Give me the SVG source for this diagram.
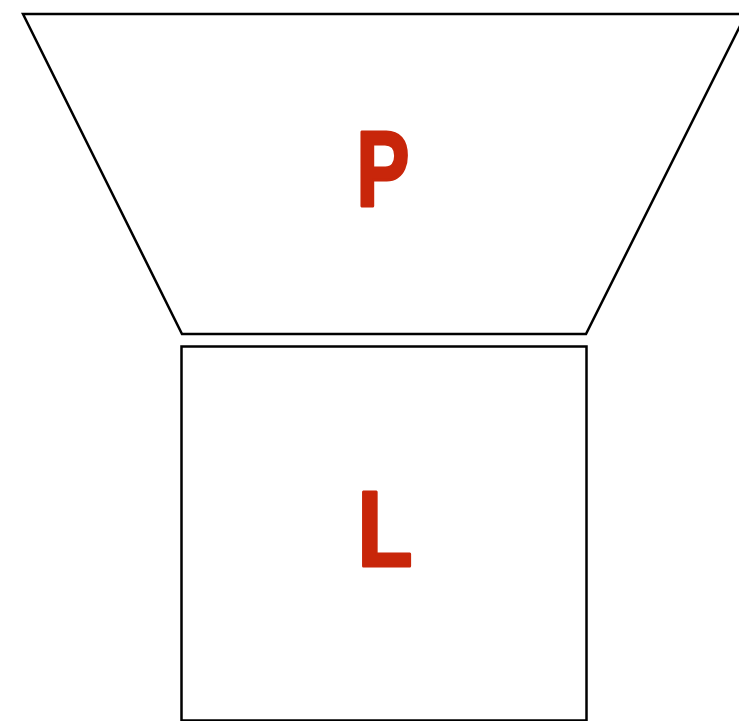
<svg xmlns="http://www.w3.org/2000/svg" width="739" height="721" viewBox="0 0 739 721">
<style>
.shape{fill:#fff;stroke:#000;stroke-width:2.5;stroke-linejoin:miter}
.lbl{font-family:"Liberation Sans","DejaVu Sans",sans-serif;font-weight:bold;font-size:108px;fill:#c8260a;stroke:#c8260a;stroke-width:3;stroke-linejoin:round;text-anchor:middle}
</style>
<rect width="739" height="721" fill="#fff"/>
<g id="node-P">
<polygon class="shape" points="23,14 746,14 586,334 182,334"/>
<text class="lbl" transform="translate(383,206) scale(0.74,1)">P</text>
</g>
<g id="node-L">
<rect class="shape" x="181.5" y="346.5" width="405" height="374"/>
<text class="lbl" transform="translate(385,566) scale(0.84,1)">L</text>
</g>
<g id="connectors"></g>
</svg>
